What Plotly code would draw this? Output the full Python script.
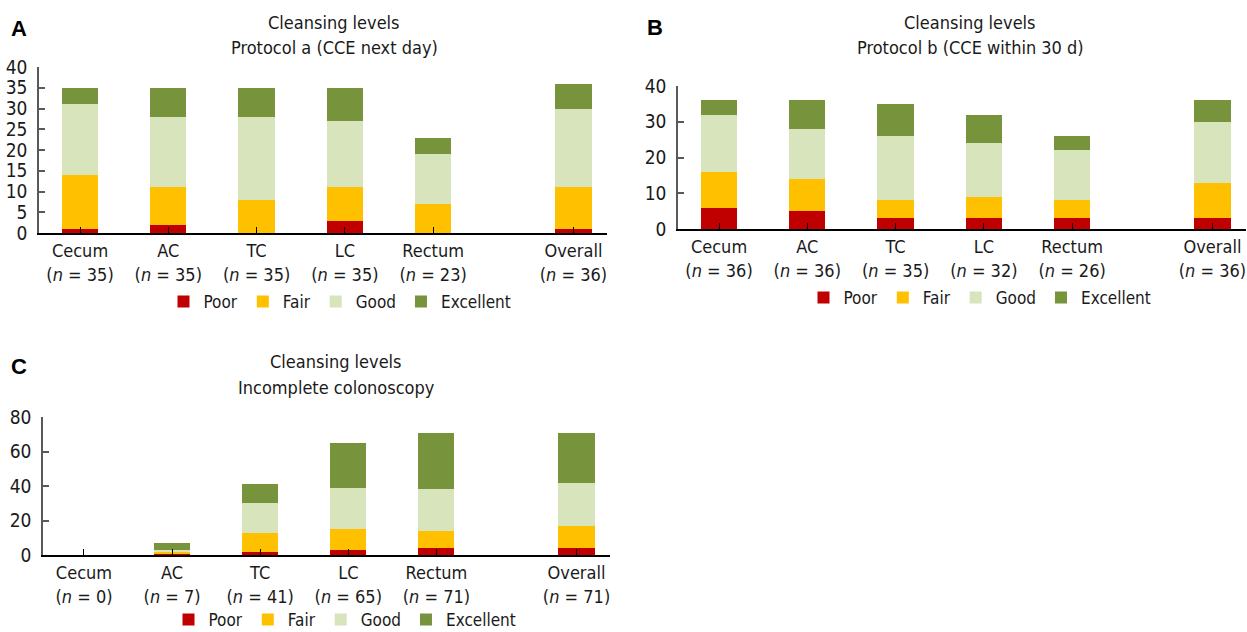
import plotly.graph_objects as go

# ---------------- data ----------------
categories = ["Cecum", "AC", "TC", "LC", "Rectum", "Overall"]
levels = ["Poor", "Fair", "Good", "Excellent"]

# Panel A: Protocol a (CCE next day)
n_a = [35, 35, 35, 35, 23, 36]
poor_a = [1, 2, 0, 3, 0, 1]
fair_a = [13, 9, 8, 8, 7, 10]
good_a = [17, 17, 20, 16, 12, 19]
excellent_a = [4, 7, 7, 8, 4, 6]

# Panel B: Protocol b (CCE within 30 d)
n_b = [36, 36, 35, 32, 26, 36]
poor_b = [6, 5, 3, 3, 3, 3]
fair_b = [10, 9, 5, 6, 5, 10]
good_b = [16, 14, 18, 15, 14, 17]
excellent_b = [4, 8, 9, 8, 4, 6]

# Panel C: Incomplete colonoscopy
n_c = [0, 7, 41, 65, 71, 71]
poor_c = [0, 1, 2, 3, 4, 4]
fair_c = [0, 1, 11, 12, 10, 13]
good_c = [0, 1, 17, 24, 24, 25]
excellent_c = [0, 4, 11, 26, 33, 29]

# ---------------- styling ----------------
W, H = 1247, 632
FONT = "DejaVu Sans Condensed, Liberation Sans, sans-serif"
colors = {"Poor": "#C00000", "Fair": "#FFC000", "Good": "#D8E4BC", "Excellent": "#77933C"}

GROUP_GAP = 0.59
xpos = [i + (GROUP_GAP if c == "Overall" else 0) for i, c in enumerate(categories)]

panels = [
    dict(key="", n=n_a, vals=[poor_a, fair_a, good_a, excellent_a], ymax=40, dtick=5,
         px=(39, 607), py=(67, 233), legend="legend", leg=(340, 302)),
    dict(key="2", n=n_b, vals=[poor_b, fair_b, good_b, excellent_b], ymax=40, dtick=10,
         px=(678, 1246), py=(86, 229), legend="legend2", leg=(980, 298)),
    dict(key="3", n=n_c, vals=[poor_c, fair_c, good_c, excellent_c], ymax=80, dtick=20,
         px=(43, 610), py=(417, 555), legend="legend3", leg=(345, 620)),
]

fig = go.Figure()
layout = dict(
    width=W, height=H, margin=dict(l=0, r=0, t=0, b=0, autoexpand=False),
    paper_bgcolor="white", plot_bgcolor="white",
    barmode="stack", font=dict(family=FONT, size=17, color="#1a1a1a"),
    annotations=[],
)

for p in panels:
    k = p["key"]
    for lvl, vals in zip(levels, p["vals"]):
        fig.add_trace(go.Bar(
            x=xpos, y=vals, name=lvl, width=0.41,
            marker=dict(color=colors[lvl], line=dict(width=0)),
            xaxis="x" + k, yaxis="y" + k, legend=p["legend"],
        ))
    ticktext = [f"{c}<br>(<i>n</i> = {n})" for c, n in zip(categories, p["n"])]
    layout["xaxis" + k] = dict(
        domain=[p["px"][0] / W, p["px"][1] / W], anchor="y" + k,
        range=[-0.465, 5.97], tickvals=xpos, ticktext=ticktext,
        showline=True, linecolor="black", linewidth=1.5,
        ticks="inside", ticklen=6, tickcolor="black", tickwidth=1.2,
        showgrid=False, zeroline=False, ticklabelstandoff=1,
        tickfont=dict(size=18, family=FONT, color="#1a1a1a"),
    )
    layout["yaxis" + k] = dict(
        domain=[(H - p["py"][1]) / H, (H - p["py"][0]) / H], anchor="x" + k,
        range=[0, p["ymax"]], dtick=p["dtick"], tick0=0,
        showline=True, linecolor="#595959", linewidth=1.5,
        ticks="inside", ticklen=6, tickcolor="#595959", tickwidth=1.5,
        showgrid=False, zeroline=False, ticklabelstandoff=6,
        tickfont=dict(size=19, family=FONT, color="#1a1a1a"),
    )
    layout[p["legend"]] = dict(
        orientation="h", x=p["leg"][0] / W, y=(H - p["leg"][1]) / H,
        xanchor="center", yanchor="middle", itemwidth=30, traceorder="normal",
        font=dict(size=17, family=FONT, color="#1a1a1a"),
        bgcolor="rgba(0,0,0,0)", itemclick=False, itemdoubleclick=False,
    )

titles = [
    ("Cleansing levels", 334, 23), ("Protocol a (CCE next day)", 334, 48),
    ("Cleansing levels", 970, 23), ("Protocol b (CCE within 30 d)", 970, 48),
    ("Cleansing levels", 336, 362), ("Incomplete colonoscopy", 336, 388),
]
for txt, x, y in titles:
    layout["annotations"].append(dict(
        text=txt, x=x / W, y=(H - y) / H, xref="paper", yref="paper",
        xanchor="center", yanchor="middle", showarrow=False,
        font=dict(size=18, family=FONT, color="#1a1a1a"),
    ))
for txt, x, y in [("A", 19, 28), ("B", 655, 27), ("C", 19, 366)]:
    layout["annotations"].append(dict(
        text=f"<b>{txt}</b>", x=x / W, y=(H - y) / H, xref="paper", yref="paper",
        xanchor="center", yanchor="middle", showarrow=False,
        font=dict(size=22, family="Liberation Sans, Arial, sans-serif", color="black"),
    ))

fig.update_layout(**layout)
fig.write_html(
    "out.html",
    config={"displayModeBar": False},
    post_script="document.body.style.margin='0';document.body.style.overflow='hidden';",
)
